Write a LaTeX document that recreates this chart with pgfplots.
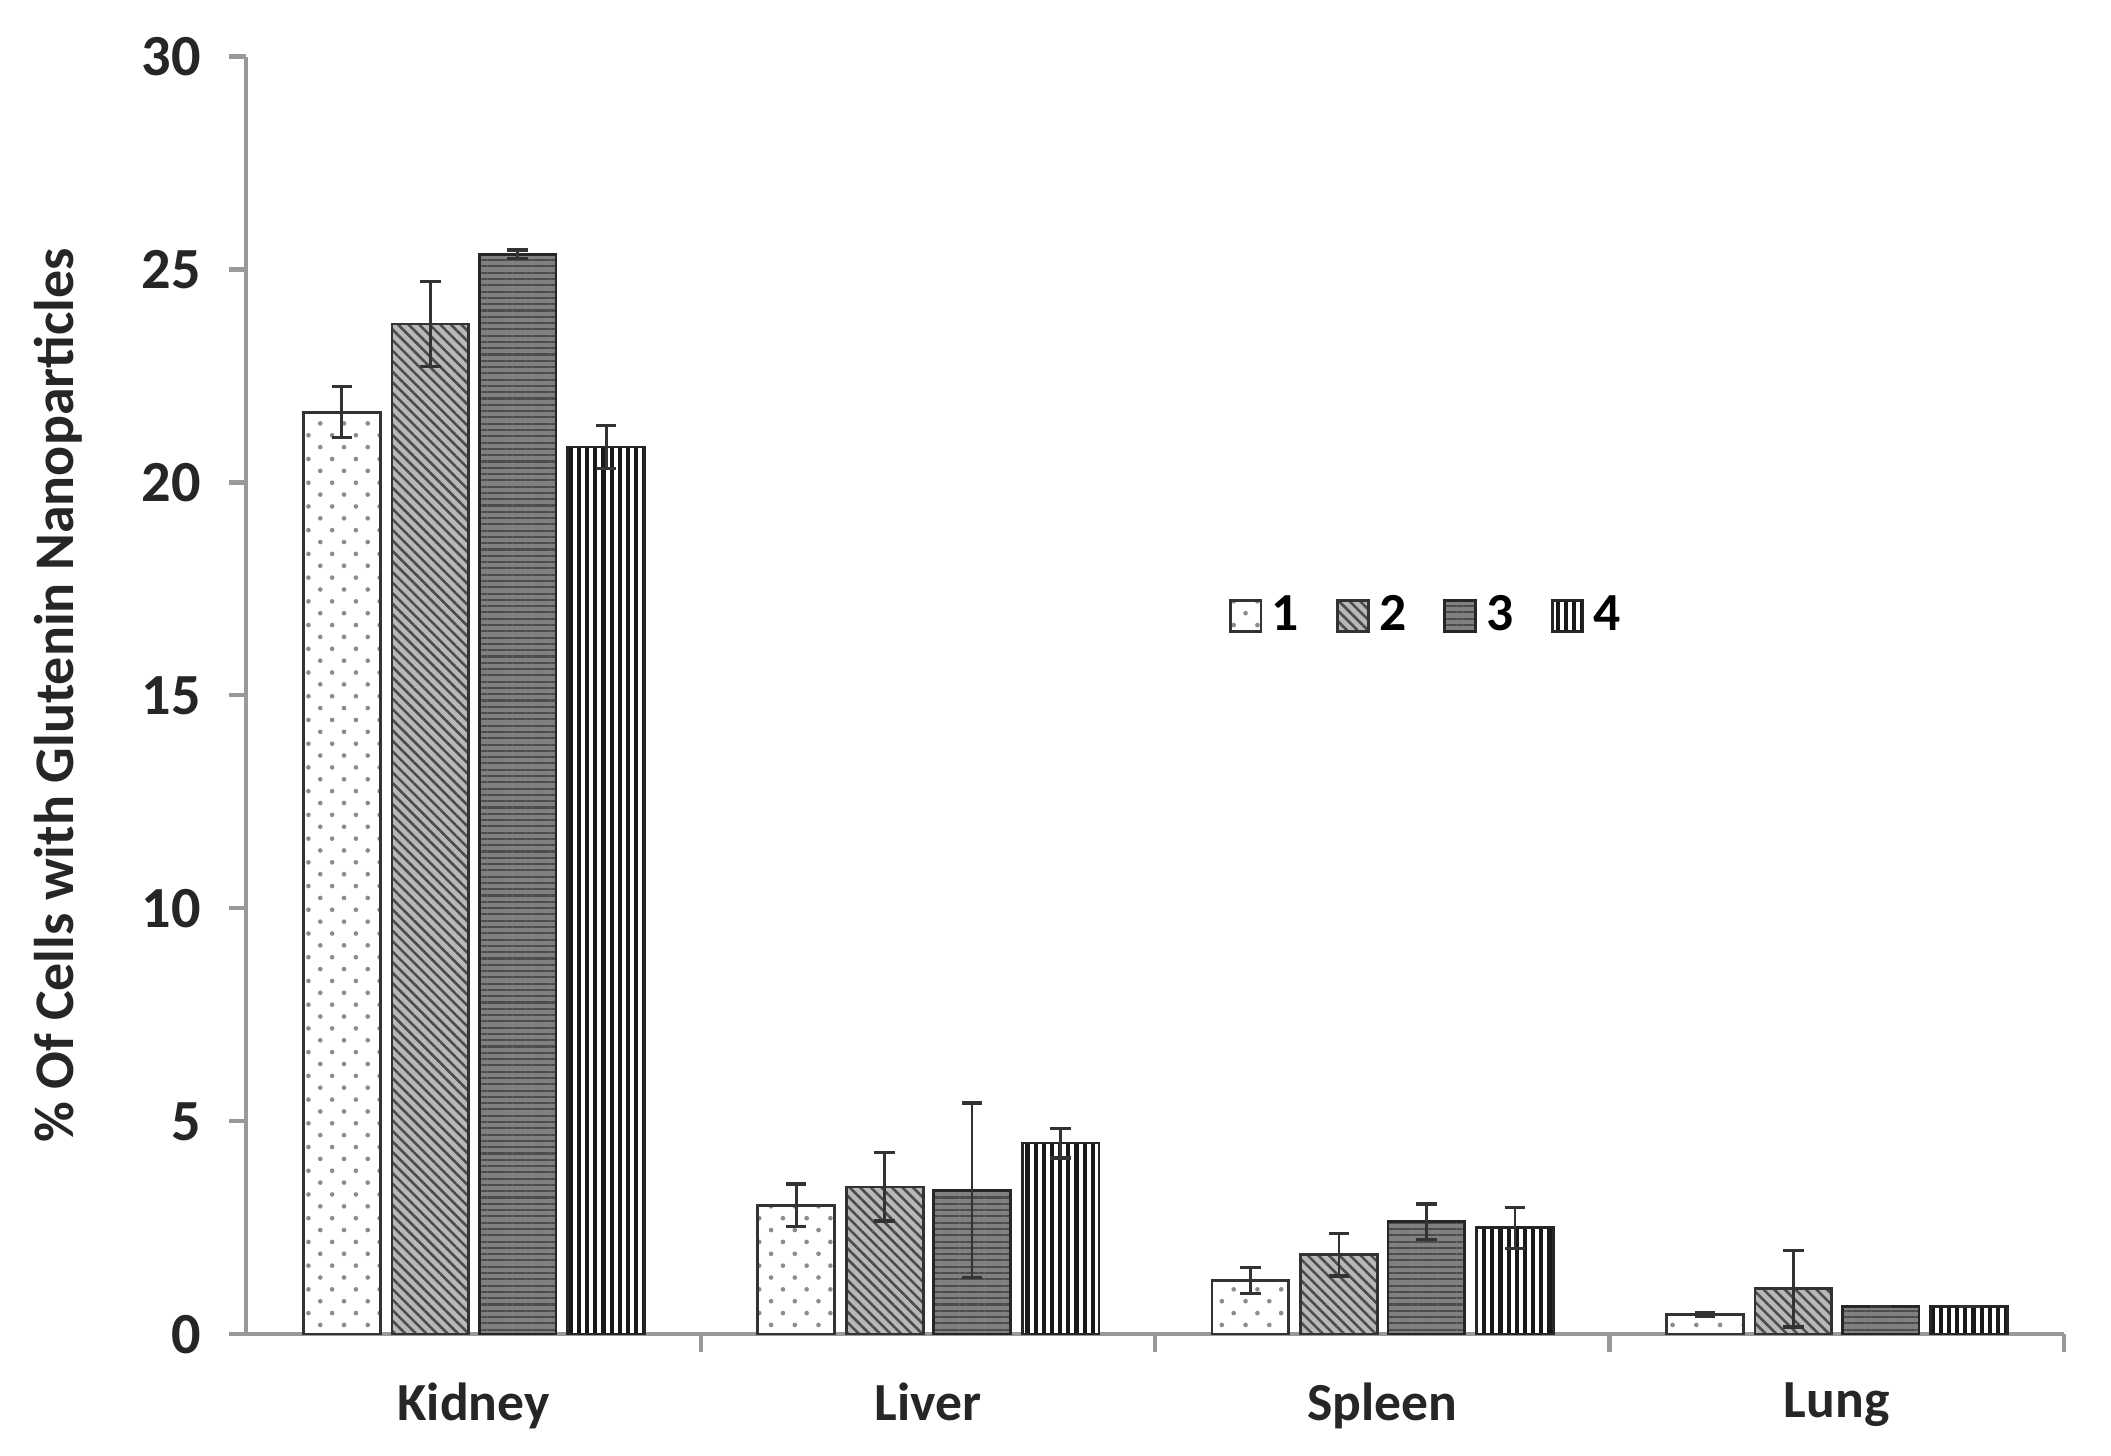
\documentclass[border=0pt]{standalone}
\usepackage{fontspec}
\setmainfont{Carlito}
\usepackage{pgfplots}
\pgfplotsset{compat=1.18}
\usetikzlibrary{patterns.meta}
\definecolor{axisgray}{gray}{0.6}
\begin{document}
\begin{tikzpicture}
\begin{axis}[
  scale only axis,
  width=390pt, height=274.2pt,
  xmin=0, xmax=4, ymin=0, ymax=30,
  ybar, bar width=0.169,
  axis lines*=left,
  axis line style={axisgray, line width=0.9pt},
  tick style={axisgray, line width=0.9pt},
  tick align=outside,
  major tick length=3.8pt,
  minor tick length=3.8pt,
  ytick={0,5,...,30},
  xtick={0.5,1.5,2.5,3.5},
  xticklabels={Kidney,Liver,Spleen,Lung},
  major x tick style={draw=none},
  minor xtick={1,2,3,4},
  /pgf/number format/assume math mode=true,
  yticklabel style={font=\fontsize{12.5}{14}\selectfont\bfseries, text=black!85, xshift=-2.4pt},
  xticklabel style={font=\fontsize{11.5}{13}\selectfont\bfseries, text=black!85, yshift=-3pt},
  ylabel={\% Of Cells with Glutenin Nanoparticles},
  ylabel style={font=\fontsize{12}{14}\selectfont\bfseries, text=black!85, yshift=6pt},
  legend style={at={(0.651,0.562)}, anchor=center, draw=none, fill=none,
    font=\fontsize{11.5}{13}\selectfont\bfseries,
    /tikz/every even column/.append style={column sep=6pt}},
  legend columns=4,
  legend image code/.code={\draw[#1] (0pt,-3.3pt) rectangle (6.6pt,3.3pt);},
  error bars/y dir=both, error bars/y explicit,
  error bars/error bar style={line width=0.6pt, black!80},
  error bars/error mark options={rotate=90, mark size=2.2pt, line width=0.7pt, black!80},
]
\addplot[bar shift=-0.29, draw=black!80, line width=0.6pt, fill=white,
  postaction={pattern={Dots[angle=45, distance=3.6pt, radius=0.5pt]}, pattern color=black!45}]
  coordinates {(0.5,21.65) +- (0,0.6) (1.5,3.03) +- (0,0.5) (2.5,1.26) +- (0,0.3) (3.5,0.47) +- (0,0.05)};
\addlegendentry{1}
\addplot[bar shift=-0.095, draw=black!80, line width=0.6pt, fill=black!28,
  postaction={pattern={Lines[angle=-45, distance=1.6pt, line width=0.55pt]}, pattern color=black!70}]
  coordinates {(0.5,23.72) +- (0,1.0) (1.5,3.46) +- (0,0.8) (2.5,1.87) +- (0,0.5) (3.5,1.07) +- (0,0.9)};
\addlegendentry{2}
\addplot[bar shift=0.097, draw=black!85, line width=0.6pt, fill=black!50,
  postaction={pattern={Lines[angle=0, distance=1.35pt, line width=0.45pt]}, pattern color=black!70}]
  coordinates {(0.5,25.36) +- (0,0.1) (1.5,3.38) +- (0,2.05) (2.5,2.64) +- (0,0.42) (3.5,0.66) +- (0,0)};
\addlegendentry{3}
\addplot[bar shift=0.292, draw=black!85, line width=0.6pt, fill=white,
  postaction={pattern={Lines[angle=90, distance=1.75pt, line width=0.9pt]}, pattern color=black!90}]
  coordinates {(0.5,20.83) +- (0,0.5) (1.5,4.49) +- (0,0.35) (2.5,2.5) +- (0,0.48) (3.5,0.66) +- (0,0)};
\addlegendentry{4}
\end{axis}
\pgfresetboundingbox
\path (-52.87pt,-26pt) rectangle (400.13pt,286.33pt);
\end{tikzpicture}
\end{document}
